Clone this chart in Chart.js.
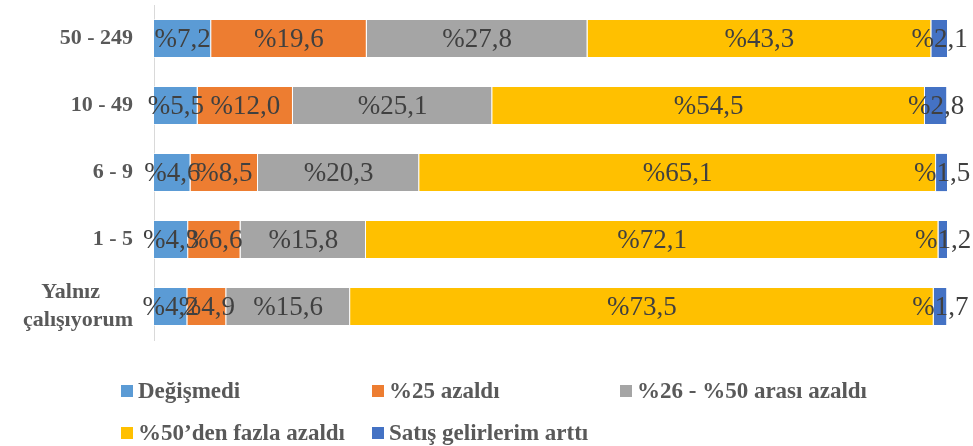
<!DOCTYPE html>
<html>
<head>
<meta charset="utf-8">
<script src="https://cdn.jsdelivr.net/npm/chart.js@4/dist/chart.umd.min.js"></script>
<style>
  html, body { margin: 0; padding: 0; background: #fff; }
  #wrap { width: 973px; height: 446px; }
</style>
</head>
<body>
<div id="wrap"><canvas id="bars-graph" width="973" height="446"></canvas></div>
<script>
// categories (top to bottom)
var categories = ["50 - 249", "10 - 49", "6 - 9", "1 - 5", ["Yalnız      ", "çalışıyorum"]];

// series, percent of respondents
var seriesNames = ["Değişmedi", "%25 azaldı", "%26 - %50 arası azaldı", "%50’den fazla azaldı", "Satış gelirlerim arttı"];
var degismedi   = [7.2, 5.5, 4.6, 4.3, 4.2];
var azaldi25    = [19.6, 12.0, 8.5, 6.6, 4.9];
var azaldi26_50 = [27.8, 25.1, 20.3, 15.8, 15.6];
var azaldi50    = [43.3, 54.5, 65.1, 72.1, 73.5];
var artti       = [2.1, 2.8, 1.5, 1.2, 1.7];

var colors = ["#5B9BD5", "#ED7D31", "#A5A5A5", "#FFC000", "#4472C4"];
var values = [degismedi, azaldi25, azaldi26_50, azaldi50, artti];

var serif = "'Liberation Serif', 'Times New Roman', serif";

// labels in the middle of every segment
var segmentLabels = {
  id: "segmentLabels",
  afterDatasetsDraw: function (chart) {
    var ctx = chart.ctx;
    ctx.save();
    ctx.font = "27px " + serif;
    ctx.fillStyle = "#404040";
    ctx.textAlign = "center";
    ctx.textBaseline = "middle";
    chart.data.datasets.forEach(function (ds, i) {
      var meta = chart.getDatasetMeta(i);
      meta.data.forEach(function (bar, j) {
        var p = bar.getProps(["x", "y", "base"], true);
        var txt = "%" + ds.data[j].toFixed(1).replace(".", ",");
        ctx.fillText(txt, (p.x + p.base) / 2, p.y + 1);
      });
    });
    ctx.restore();
  }
};

// legend laid out in columns like the office chart
var gridLegend = {
  id: "gridLegend",
  afterDraw: function (chart) {
    var ctx = chart.ctx;
    var cols = [121, 372, 620];
    var rows = [391, 433];
    ctx.save();
    ctx.font = "bold 23px " + serif;
    ctx.textBaseline = "middle";
    ctx.textAlign = "left";
    chart.data.datasets.forEach(function (ds, i) {
      var x = cols[i % 3];
      var y = rows[Math.floor(i / 3)];
      ctx.fillStyle = ds.backgroundColor;
      ctx.fillRect(x, y - 6, 12, 12);
      ctx.fillStyle = "#595959";
      ctx.fillText(ds.label, x + 17, y + 1);
    });
    ctx.restore();
  }
};

var datasets = seriesNames.map(function (name, i) {
  return {
    label: name,
    data: values[i],
    backgroundColor: colors[i],
    borderColor: "rgba(255,255,255,0.6)",
    borderWidth: 1,
    barPercentage: 0.585,
    categoryPercentage: 1
  };
});

var ctx = document.getElementById("bars-graph").getContext("2d");
var BarChart = new Chart(ctx, {
  type: "bar",
  data: { labels: categories, datasets: datasets },
  options: {
    indexAxis: "y",
    responsive: false,
    animation: false,
    layout: { padding: { top: 5, right: 25, bottom: 106, left: 0 } },
    plugins: {
      legend: { display: false },
      tooltip: { enabled: false }
    },
    scales: {
      x: {
        stacked: true,
        display: false,
        min: 0,
        max: 100
      },
      y: {
        stacked: true,
        grid: { display: false, drawTicks: false },
        border: { display: true, color: "#D9D9D9", width: 1 },
        ticks: {
          padding: 21,
          color: "#595959",
          font: { family: serif, size: 22, weight: "bold", lineHeight: 1.3 }
        },
        afterFit: function (scale) {
          scale.width = 154;
          scale.paddingTop = 0;
          scale.paddingBottom = 0;
        }
      }
    }
  },
  plugins: [segmentLabels, gridLegend]
});
</script>
</body>
</html>
